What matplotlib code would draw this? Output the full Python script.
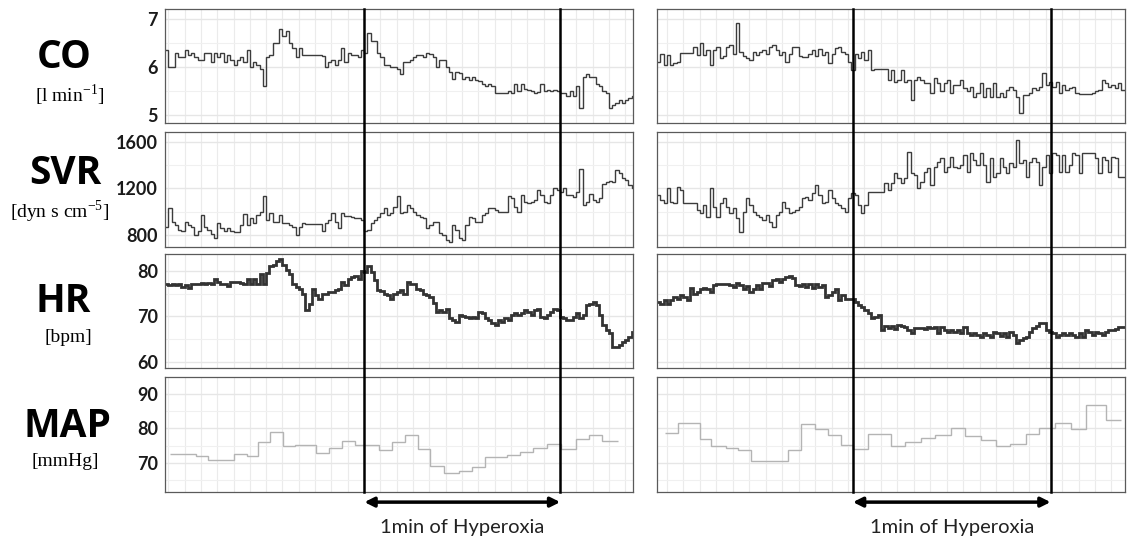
import numpy as np
import matplotlib.pyplot as plt
from matplotlib.lines import Line2D

# ================ data (about one value per second) ================
STEP = 1.0

co_left = [6.35, 6.0, 6.0, 6.3, 6.2, 6.2, 6.35, 6.25, 6.3, 6.2,
           6.15, 6.15, 6.3, 6.3, 6.1, 6.3, 6.2, 6.3, 6.1, 6.25,
           6.15, 6.05, 6.15, 6.2, 6.1, 6.35, 6.0, 6.1, 6.05, 5.95,
           5.6, 6.2, 6.25, 6.5, 6.5, 6.8, 6.65, 6.75, 6.5, 6.4,
           6.2, 6.4, 6.25, 6.25, 6.25, 6.25, 6.25, 6.25, 6.22, 6.0,
           6.1, 6.15, 6.05, 6.15, 6.4, 6.1, 6.3, 6.25, 6.25, 6.2,
           6.35, 6.3, 6.7, 6.55, 6.55, 6.3, 6.2, 6.05, 6.05, 6.0,
           6.0, 5.95, 5.85, 6.1, 6.1, 6.15, 6.2, 6.25, 6.25, 6.2,
           6.3, 6.28, 6.2, 6.0, 6.15, 6.15, 6.0, 5.9, 5.75, 5.9,
           5.88, 5.75, 5.8, 5.72, 5.8, 5.72, 5.7, 5.65, 5.6, 5.65,
           5.6, 5.45, 5.45, 5.45, 5.45, 5.5, 5.45, 5.65, 5.5, 5.65,
           5.55, 5.52, 5.5, 5.45, 5.48, 5.65, 5.5, 5.52, 5.5, 5.52,
           5.5, 5.45, 5.45, 5.4, 5.5, 5.4, 5.6, 5.15, 5.8, 5.85,
           5.78, 5.8, 5.65, 5.6, 5.5, 5.45, 5.15, 5.2, 5.25, 5.3,
           5.25, 5.3, 5.35, 5.4]

co_right = [6.11, 6.28, 6.04, 6.25, 6.04, 6.08, 6.11, 6.30, 6.30, 6.30,
            6.30, 6.42, 6.25, 6.49, 6.25, 6.35, 6.04, 6.35, 6.42, 6.18,
            6.22, 6.42, 6.46, 6.28, 6.91, 6.32, 6.22, 6.18, 6.15, 6.32,
            6.25, 6.32, 6.35, 6.28, 6.42, 6.46, 6.35, 6.25, 6.32, 6.11,
            6.28, 6.42, 6.42, 6.22, 6.20, 6.20, 6.28, 6.35, 6.22, 6.37,
            6.25, 6.32, 6.08, 6.28, 6.39, 6.42, 6.32, 6.28, 6.11, 5.94,
            6.28, 6.18, 6.32, 6.15, 6.35, 5.94, 5.95, 5.95, 5.95, 5.95,
            5.73, 5.94, 5.69, 5.73, 5.94, 5.69, 5.73, 5.31, 5.73, 5.80,
            5.73, 5.67, 5.66, 5.45, 5.76, 5.66, 5.49, 5.66, 5.73, 5.45,
            5.63, 5.63, 5.73, 5.56, 5.49, 5.59, 5.38, 5.45, 5.66, 5.38,
            5.56, 5.38, 5.66, 5.38, 5.45, 5.38, 5.52, 5.59, 5.52, 5.38,
            5.03, 5.42, 5.42, 5.45, 5.56, 5.52, 5.59, 5.87, 5.63, 5.69,
            5.59, 5.69, 5.45, 5.63, 5.52, 5.56, 5.59, 5.45, 5.44, 5.44,
            5.44, 5.44, 5.45, 5.49, 5.52, 5.73, 5.66, 5.59, 5.63, 5.56,
            5.66, 5.52]

svr_left = [870, 1030, 915, 885, 843, 835, 915, 885, 870, 800,
            830, 970, 870, 843, 805, 770, 900, 857, 830, 857,
            830, 823, 823, 885, 977, 885, 943, 900, 970, 1000,
            1130, 930, 985, 915, 915, 970, 900, 900, 886, 871,
            800, 871, 900, 890, 890, 890, 890, 890, 830, 900,
            930, 985, 915, 857, 985, 965, 965, 957, 949, 943,
            930, 830, 843, 900, 929, 957, 985, 1030, 970, 985,
            1043, 1130, 985, 1000, 1057, 1030, 1000, 970, 957, 943,
            857, 886, 914, 915, 815, 800, 757, 743, 885, 843,
            770, 757, 885, 957, 943, 915, 915, 970, 985, 1030,
            1030, 1014, 995, 995, 995, 1130, 1114, 1043, 1000, 1140,
            1085, 1071, 1085, 1100, 1185, 1143, 1086, 1071, 1143, 1200,
            1186, 1170, 1200, 1143, 1143, 1129, 1171, 1370, 1057, 1086,
            1155, 1100, 1086, 1114, 1240, 1257, 1260, 1257, 1357, 1329,
            1286, 1271, 1229, 1200]

svr_right = [1143, 1100, 1071, 1200, 1086, 1071, 1214, 1186, 1071, 1071,
             1071, 1071, 1014, 986, 1057, 957, 1200, 1043, 957, 1071,
             1114, 1043, 986, 1029, 943, 829, 1000, 1114, 1057, 1000,
             971, 957, 929, 971, 914, 871, 971, 1000, 1086, 1029,
             986, 1000, 1014, 1043, 1114, 1129, 1100, 1157, 1229, 1143,
             1071, 1086, 1186, 1114, 1071, 1057, 1029, 1000, 1114, 1157,
             1143, 1057, 986, 1057, 1171, 1171, 1171, 1171, 1171, 1243,
             1186, 1243, 1329, 1286, 1243, 1286, 1514, 1329, 1314, 1200,
             1257, 1343, 1371, 1229, 1386, 1429, 1457, 1343, 1386, 1471,
             1386, 1371, 1400, 1486, 1343, 1500, 1443, 1400, 1500, 1400,
             1257, 1457, 1300, 1329, 1457, 1386, 1329, 1414, 1386, 1614,
             1414, 1443, 1300, 1429, 1457, 1429, 1229, 1386, 1486, 1329,
             1500, 1486, 1343, 1486, 1343, 1400, 1500, 1486, 1329, 1500,
             1500, 1500, 1500, 1457, 1329, 1471, 1443, 1343, 1471, 1457,
             1300, 1300]

hr_left = [77.2, 76.8, 77.2, 76.8, 77.2, 76.5, 76.8, 76.3, 77.2, 77.2,
           77.2, 77.4, 77.2, 77.4, 77.2, 78.1, 77.6, 77.2, 77.2, 76.6,
           77.6, 77.6, 77.6, 77.4, 77.2, 78.1, 77.2, 78.1, 77.2, 79.4,
           77.2, 79.6, 81.0, 81.2, 82.1, 82.7, 81.2, 80.1, 79.4, 77.2,
           76.5, 76.1, 75.0, 71.4, 72.8, 76.1, 74.6, 73.9, 75.0, 75.0,
           75.4, 75.4, 75.7, 76.1, 77.6, 76.8, 78.1, 78.7, 78.8, 78.3,
           80.0, 79.8, 81.0, 79.8, 77.9, 75.7, 75.6, 75.0, 74.6, 73.9,
           75.0, 75.4, 75.7, 75.0, 77.6, 77.2, 77.2, 76.1, 75.7, 75.0,
           74.6, 74.3, 73.0, 71.0, 71.4, 71.0, 71.7, 69.5, 69.2, 68.8,
           70.3, 70.0, 69.9, 69.5, 69.9, 69.5, 71.0, 70.6, 69.5, 69.2,
           68.4, 68.1, 69.2, 68.8, 69.5, 69.2, 70.3, 70.6, 70.3, 70.6,
           71.4, 71.0, 70.3, 71.4, 71.7, 69.9, 69.5, 70.3, 71.0, 71.7,
           71.4, 69.9, 69.5, 69.2, 69.2, 69.9, 70.6, 69.5, 70.3, 72.5,
           72.8, 73.2, 72.5, 70.3, 68.1, 67.0, 66.2, 63.3, 63.3, 63.7,
           64.4, 64.8, 65.5, 66.6]

hr_right = [73.2, 72.7, 73.5, 72.7, 73.6, 74.2, 73.9, 74.6, 74.2, 73.5,
            76.3, 75.0, 75.4, 75.9, 76.3, 76.1, 75.4, 76.8, 77.0, 77.0,
            77.0, 77.2, 76.8, 76.5, 77.3, 76.8, 76.1, 76.6, 75.4, 76.1,
            76.8, 76.1, 77.3, 77.3, 76.6, 77.9, 78.3, 77.6, 78.3, 78.7,
            78.8, 78.5, 76.8, 76.6, 77.2, 76.5, 77.2, 76.3, 77.2, 76.5,
            76.8, 74.3, 74.6, 75.4, 76.1, 73.5, 74.6, 73.9, 73.9, 73.7,
            73.2, 72.5, 72.1, 71.4, 70.8, 69.5, 69.9, 70.3, 67.0, 67.9,
            67.4, 67.9, 67.1, 68.1, 67.9, 67.6, 67.0, 66.2, 67.4, 67.4,
            67.4, 67.1, 67.6, 67.4, 67.6, 66.4, 67.6, 67.0, 66.6, 67.0,
            66.6, 67.0, 66.4, 67.6, 66.2, 65.9, 66.4, 65.9, 65.5, 66.2,
            65.9, 65.4, 66.6, 66.2, 65.6, 66.4, 65.4, 66.6, 65.9, 64.0,
            64.8, 65.1, 65.5, 66.6, 67.4, 67.9, 68.6, 68.4, 67.0, 66.6,
            66.4, 65.4, 65.9, 66.2, 65.9, 66.2, 65.9, 65.4, 66.4, 65.5,
            67.0, 66.6, 65.9, 66.6, 66.2, 65.9, 66.6, 67.0, 67.0, 67.1,
            67.7, 67.7]

# MAP is updated less often: step edges (s) and levels
map_left_edges = [1.5, 9.5, 13.3, 21, 25, 28.6, 32.2, 36.1, 39.9, 46.3, 50.1,
                  54.2, 58.1, 65.6, 69.5, 73.6, 77.4, 81.3, 85.6, 90, 94.1,
                  98.2, 104.8, 108.9, 112.8, 117.1, 121.2, 125.8, 129.9, 133.9, 138.8]
map_left = [72.6, 72.1, 70.8, 72.6, 72.1, 76.0, 78.9, 75.0, 75.1, 72.9,
            74.3, 76.5, 75.3, 73.8, 76.0, 78.0, 74.0, 69.0, 67.1, 67.8,
            68.75, 71.7, 72.4, 73.1, 74.3, 75.6, 74.0, 76.9, 78.0, 76.4]

map_right_edges = [2.3, 6.4, 13, 16.5, 20.9, 24.6, 28.6, 39.8, 43.8, 47.9,
                   51.9, 56, 59.5, 64.1, 71.2, 75.2, 80.3, 84.3, 89.4, 93.4,
                   98.5, 102.8, 107.1, 111.9, 116, 120.7, 125.8, 130.2, 136.4, 141]
map_right = [78.7, 81.7, 76.9, 75.0, 74.3, 73.7, 70.5, 73.8, 81.3, 79.9,
             78.2, 75.3, 74.0, 78.5, 74.8, 76.0, 77.2, 78.2, 80.1, 77.9,
             76.7, 74.8, 75.6, 78.4, 80.1, 81.7, 79.8, 86.8, 82.5]

hyper_left = (61.1, 121.1)
hyper_right = (59.5, 119.5)
xlim_left = (0, 143.4)
xlim_right = (0, 142.1)

names = ["CO", "SVR", "HR", "MAP"]
units = ["[l min$^{\\mathregular{-1}}$]", "[dyn s cm$^{\\mathregular{-5}}$]", "[bpm]", "[mmHg]"]
yticks = [[5, 6, 7], [800, 1200, 1600], [60, 70, 80], [70, 80, 90]]
yminor = [[5.5, 6.5], [1000, 1400], [65, 75], [65, 75, 85]]
ylims = [(4.83, 7.21), (697, 1683), (58.6, 83.7), (61.6, 94.9)]

# ================ layout (pixel boxes of the original) ================
W, H = 1133, 540
fig = plt.figure(figsize=(W / 100, H / 100), dpi=100)

col_x = [(165, 633), (657, 1125)]
row_y = [(9, 123), (132, 247), (254, 368), (377, 492)]
name_pos = [(64.5, 53), (65.5, 169), (63.5, 297.5), (67, 422)]
unit_pos = [(70, 95), (60, 212), (68, 337), (65, 462)]

series = [
    [(co_left, None), (co_right, None)],
    [(svr_left, None), (svr_right, None)],
    [(hr_left, None), (hr_right, None)],
    [(map_left, map_left_edges), (map_right, map_right_edges)],
]
line_style = [
    dict(color="#3c3c3c", lw=1.0),
    dict(color="#3c3c3c", lw=1.0),
    dict(color="#333333", lw=2.0),
    dict(color="#b4b4b4", lw=1.0),
]

axes = [[None, None] for _ in range(4)]
for r in range(4):
    for c in range(2):
        x0, x1 = col_x[c]
        y0, y1 = row_y[r]
        ax = fig.add_axes([x0 / W, 1 - y1 / H, (x1 - x0) / W, (y1 - y0) / H])
        axes[r][c] = ax
        vals, edges = series[r][c]
        if edges is None:
            edges = np.arange(len(vals) + 1) * STEP
        ax.stairs(vals, edges, baseline=None, **line_style[r])

        ax.set_xlim(xlim_left if c == 0 else xlim_right)
        ax.set_ylim(ylims[r])
        # ggplot-like grid
        vx = np.arange(1, 143, 5) if c == 0 else np.arange(3, 142, 5)
        for v in vx:
            ax.axvline(v, color="#ebebeb", lw=0.8, zorder=0)
        for v in yticks[r]:
            ax.axhline(v, color="#e6e6e6", lw=1.0, zorder=0)
        for v in yminor[r]:
            ax.axhline(v, color="#f0f0f0", lw=0.8, zorder=0)

        ax.set_xticks([])
        ax.set_yticks(yticks[r])
        if c == 0:
            ax.set_yticklabels([str(v) for v in yticks[r]], family="Lato",
                               fontweight="bold", fontsize=13, color="#1a1a1a")
        else:
            ax.set_yticklabels([])
        ax.tick_params(axis="y", length=0, pad=5)
        for s in ax.spines.values():
            s.set_color("#5a5a5a")
            s.set_linewidth(0.9)

    fig.text(name_pos[r][0] / W, 1 - name_pos[r][1] / H, names[r],
             family="Open Sans", fontweight="bold", fontsize=28,
             ha="center", va="center_baseline")
    fig.text(unit_pos[r][0] / W, 1 - unit_pos[r][1] / H, units[r],
             family="Liberation Serif", fontsize=14, ha="center", va="center")

# hyperoxia markers spanning all four rows
inv = fig.transFigure.inverted()
for c, hyp in enumerate([hyper_left, hyper_right]):
    top_ax = axes[0][c]
    bot_ax = axes[3][c]
    for t in hyp:
        xf = inv.transform(top_ax.transData.transform((t, 0)))[0]
        fig.add_artist(Line2D([xf, xf], [1 - row_y[0][0] / H, 1 - row_y[3][1] / H],
                              color="black", lw=1.8))
    bot_ax.annotate("", xy=(hyp[1], -0.088), xytext=(hyp[0], -0.088),
                    xycoords=bot_ax.get_xaxis_transform(),
                    arrowprops=dict(arrowstyle="<|-|>", color="black", lw=2.5,
                                    mutation_scale=14, shrinkA=0, shrinkB=0),
                    annotation_clip=False)
    bot_ax.text((hyp[0] + hyp[1]) / 2, -0.305, "1min of Hyperoxia",
                transform=bot_ax.get_xaxis_transform(), ha="center", va="center",
                family="Lato", fontsize=14.5, color="#222222")

fig.savefig("out.png", dpi=100)
